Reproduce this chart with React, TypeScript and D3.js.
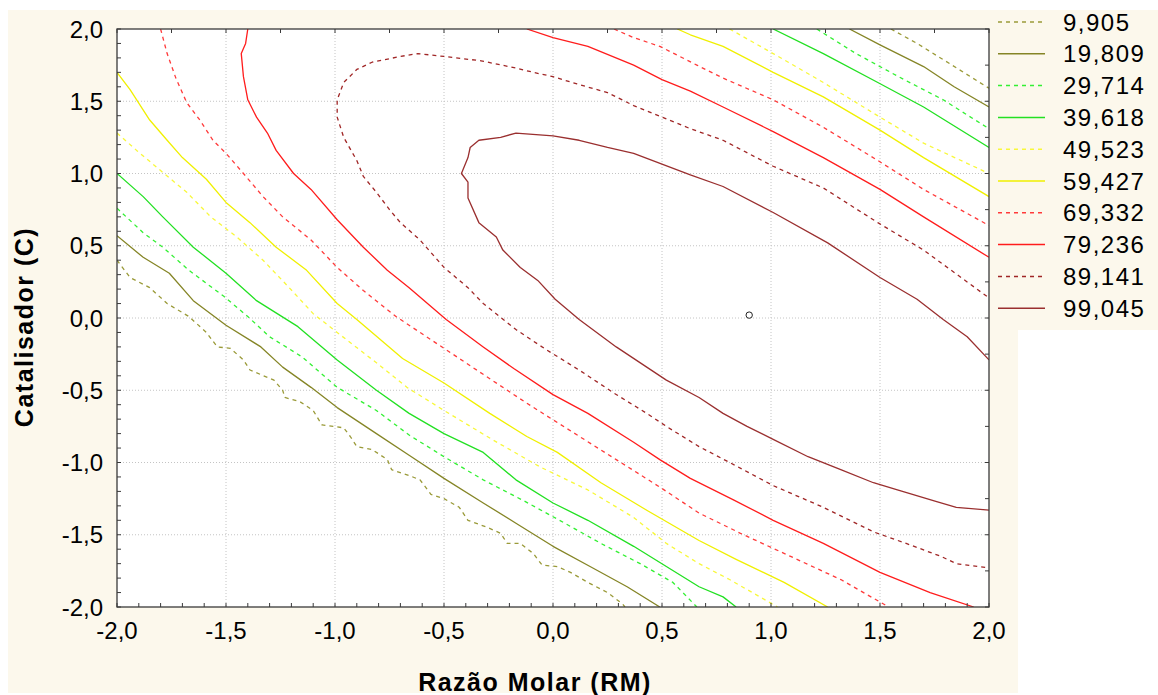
import React from "react";
import * as d3 from "d3";

const W = 1158;
const H = 695;
const PLOT = { left: 117, top: 29, right: 989, bottom: 607 };

// contour levels (legend)
const levelValues = [9.905, 19.809, 29.714, 39.618, 49.523, 59.427, 69.332, 79.236, 89.141, 99.045];
const levelColors = ["#9a9a38", "#858526", "#33f033", "#22e022", "#f8f83a", "#f0f000", "#ff3a3a", "#ff1c1c", "#a02626", "#9a2f2f"];
const levelDashed = [true, false, true, false, true, false, true, false, true, false];

// axis ticks
const tickValues = [-2, -1.5, -1, -0.5, 0, 0.5, 1, 1.5, 2];
const xTickLabels = ["-2,0", "-1,5", "-1,0", "-0,5", "0,0", "0,5", "1,0", "1,5", "2,0"];
const yTickLabels = ["-2,0", "-1,5", "-1,0", "-0,5", "0,0", "0,5", "1,0", "1,5", "2,0"];

const xTitle = "Razão Molar (RM)";
const yTitle = "Catalisador (C)";

// stationary point
const centerPoint = [0.9, 0.02];

// contour polylines (RM, C)
const contour9905 = [
  [[-2.0, 0.4], [-1.94, 0.28], [-1.85, 0.21], [-1.77, 0.1], [-1.67, 0.01], [-1.59, -0.1], [-1.54, -0.2], [-1.48, -0.21], [-1.42, -0.29], [-1.39, -0.36], [-1.28, -0.43], [-1.24, -0.5], [-1.23, -0.55], [-1.16, -0.58], [-1.1, -0.64], [-1.06, -0.74], [-0.96, -0.76], [-0.93, -0.82], [-0.9, -0.89], [-0.83, -0.91], [-0.76, -0.98], [-0.74, -1.05], [-0.66, -1.09], [-0.61, -1.12], [-0.56, -1.22], [-0.5, -1.25], [-0.43, -1.31], [-0.39, -1.4], [-0.3, -1.45], [-0.24, -1.49], [-0.21, -1.56], [-0.15, -1.56], [-0.09, -1.63], [-0.05, -1.71], [0.02, -1.72], [0.08, -1.76], [0.16, -1.83], [0.25, -1.9], [0.32, -1.98], [0.33, -2.0]],
  [[1.55, 2.0], [1.67, 1.9], [1.82, 1.76], [2.0, 1.59]],
];
const contour19809 = [
  [[-2.0, 0.57], [-1.88, 0.42], [-1.76, 0.31], [-1.65, 0.12], [-1.5, -0.05], [-1.34, -0.2], [-1.24, -0.34], [-1.11, -0.48], [-0.99, -0.62], [-0.81, -0.8], [-0.66, -0.95], [-0.5, -1.11], [-0.32, -1.28], [-0.17, -1.42], [0.0, -1.58], [0.17, -1.72], [0.34, -1.86], [0.49, -2.0]],
  [[1.36, 2.0], [1.5, 1.89], [1.7, 1.74], [1.84, 1.6], [2.0, 1.46]],
];
const contour29714 = [
  [[-2.0, 0.76], [-1.88, 0.59], [-1.79, 0.49], [-1.67, 0.33], [-1.51, 0.15], [-1.4, 0.01], [-1.3, -0.13], [-1.15, -0.27], [-0.99, -0.48], [-0.81, -0.64], [-0.66, -0.81], [-0.5, -0.96], [-0.32, -1.12], [-0.14, -1.26], [0.03, -1.4], [0.22, -1.56], [0.4, -1.7], [0.55, -1.83], [0.66, -2.0]],
  [[1.21, 2.0], [1.39, 1.83], [1.61, 1.65], [1.79, 1.51], [2.0, 1.31]],
];
const contour39618 = [
  [[-2.0, 1.0], [-1.88, 0.84], [-1.79, 0.7], [-1.65, 0.49], [-1.5, 0.31], [-1.36, 0.12], [-1.17, -0.06], [-0.99, -0.29], [-0.81, -0.5], [-0.66, -0.66], [-0.5, -0.8], [-0.32, -0.93], [-0.17, -1.12], [0.0, -1.28], [0.16, -1.4], [0.37, -1.58], [0.52, -1.72], [0.67, -1.86], [0.78, -1.93], [0.84, -2.0]],
  [[1.01, 2.0], [1.24, 1.83], [1.49, 1.63], [1.7, 1.46], [2.0, 1.18]],
];
const contour49523 = [
  [[-2.0, 1.28], [-1.91, 1.16], [-1.8, 1.02], [-1.68, 0.87], [-1.57, 0.7], [-1.45, 0.56], [-1.33, 0.4], [-1.21, 0.21], [-1.1, 0.03], [-0.99, -0.1], [-0.81, -0.31], [-0.67, -0.48], [-0.5, -0.64], [-0.28, -0.84], [-0.06, -1.03], [0.16, -1.19], [0.37, -1.38], [0.52, -1.56], [0.67, -1.7], [0.81, -1.81], [1.03, -2.0]],
  [[0.81, 2.0], [1.01, 1.83], [1.24, 1.63], [1.5, 1.39], [1.7, 1.21], [2.0, 1.0]],
];
const contour59427 = [
  [[-2.0, 1.7], [-1.94, 1.58], [-1.85, 1.37], [-1.77, 1.23], [-1.7, 1.11], [-1.59, 0.96], [-1.5, 0.8], [-1.39, 0.66], [-1.27, 0.49], [-1.13, 0.33], [-0.99, 0.1], [-0.9, -0.01], [-0.69, -0.28], [-0.5, -0.45], [-0.29, -0.66], [-0.12, -0.82], [0.02, -0.93], [0.22, -1.14], [0.43, -1.33], [0.67, -1.54], [0.84, -1.67], [1.06, -1.83], [1.26, -2.0]],
  [[0.57, 2.0], [0.63, 1.96], [0.78, 1.88], [1.01, 1.7], [1.24, 1.53], [1.5, 1.3], [1.7, 1.11], [2.0, 0.84]],
];
const contour69332 = [
  [[-1.8, 2.0], [-1.77, 1.83], [-1.73, 1.66], [-1.68, 1.49], [-1.62, 1.37], [-1.56, 1.23], [-1.5, 1.14], [-1.42, 1.0], [-1.33, 0.84], [-1.24, 0.7], [-1.11, 0.54], [-0.99, 0.35], [-0.87, 0.19], [-0.72, 0.01], [-0.49, -0.22], [-0.3, -0.41], [-0.12, -0.59], [0.09, -0.79], [0.29, -0.98], [0.49, -1.17], [0.67, -1.35], [0.86, -1.49], [1.09, -1.65], [1.32, -1.81], [1.54, -2.0]],
  [[0.28, 2.0], [0.37, 1.94], [0.49, 1.88], [0.66, 1.75], [0.78, 1.66], [1.01, 1.51], [1.24, 1.32], [1.49, 1.09], [1.7, 0.89], [2.0, 0.64]],
];
const contour79236 = [
  [[-1.4, 2.0], [-1.41, 1.9], [-1.43, 1.83], [-1.42, 1.67], [-1.4, 1.51], [-1.36, 1.39], [-1.31, 1.28], [-1.27, 1.16], [-1.19, 1.0], [-1.11, 0.89], [-0.99, 0.68], [-0.87, 0.49], [-0.76, 0.33], [-0.66, 0.21], [-0.49, -0.01], [-0.32, -0.2], [-0.18, -0.35], [0.0, -0.53], [0.16, -0.66], [0.37, -0.86], [0.49, -0.98], [0.63, -1.11], [0.83, -1.26], [1.01, -1.4], [1.24, -1.56], [1.5, -1.76], [1.73, -1.9], [1.93, -2.0]],
  [[-0.12, 2.0], [0.0, 1.94], [0.16, 1.88], [0.37, 1.75], [0.5, 1.65], [0.63, 1.57], [0.78, 1.46], [1.01, 1.29], [1.24, 1.11], [1.5, 0.89], [1.7, 0.7], [2.0, 0.42]],
];
const contour89141 = [
  [[1.99, 0.15], [1.7, 0.47], [1.49, 0.66], [1.24, 0.9], [1.01, 1.05], [0.78, 1.23], [0.63, 1.31], [0.5, 1.39], [0.37, 1.47], [0.25, 1.56], [0.11, 1.62], [0.0, 1.67], [-0.09, 1.7], [-0.17, 1.73], [-0.33, 1.78], [-0.5, 1.81], [-0.62, 1.83], [-0.7, 1.81], [-0.83, 1.77], [-0.9, 1.72], [-0.96, 1.63], [-0.99, 1.51], [-0.99, 1.39], [-0.96, 1.25], [-0.9, 1.09], [-0.87, 0.98], [-0.81, 0.87], [-0.75, 0.75], [-0.7, 0.66], [-0.61, 0.54], [-0.5, 0.35], [-0.39, 0.21], [-0.32, 0.1], [-0.17, -0.08], [-0.03, -0.22], [0.12, -0.36], [0.28, -0.52], [0.43, -0.66], [0.52, -0.75], [0.67, -0.89], [0.81, -1.0], [1.01, -1.16], [1.24, -1.31], [1.47, -1.48], [1.62, -1.56], [1.78, -1.65], [1.85, -1.7], [2.0, -1.73]],
];
const contour99045 = [
  [[2.0, -0.29], [1.9, -0.13], [1.79, -0.01], [1.67, 0.13], [1.5, 0.28], [1.26, 0.52], [1.01, 0.73], [0.78, 0.91], [0.63, 0.99], [0.37, 1.14], [0.25, 1.18], [0.12, 1.23], [0.0, 1.26], [-0.17, 1.28], [-0.24, 1.25], [-0.34, 1.23], [-0.38, 1.18], [-0.39, 1.11], [-0.42, 1.0], [-0.39, 0.94], [-0.39, 0.83], [-0.34, 0.66], [-0.26, 0.56], [-0.23, 0.47], [-0.15, 0.35], [-0.07, 0.26], [0.01, 0.13], [0.12, -0.01], [0.29, -0.2], [0.43, -0.34], [0.52, -0.43], [0.67, -0.55], [0.78, -0.66], [0.89, -0.75], [1.01, -0.84], [1.17, -0.96], [1.32, -1.05], [1.47, -1.14], [1.58, -1.19], [1.76, -1.27], [1.85, -1.31], [2.0, -1.33]],
];

const contours = [contour9905, contour19809, contour29714, contour39618, contour49523, contour59427, contour69332, contour79236, contour89141, contour99045];

const ptBR = d3.formatLocale({ decimal: ",", thousands: ".", grouping: [3], currency: ["", ""] });
const fmtLevel = ptBR.format(".3f");

const FONT = "'Liberation Sans', Arial, Helvetica, sans-serif";
const BEIGE = "#fcf8ec";

export default function App() {
  const x = d3.scaleLinear().domain([-2, 2]).range([PLOT.left, PLOT.right]);
  const y = d3.scaleLinear().domain([-2, 2]).range([PLOT.bottom, PLOT.top]);
  const line = d3
    .line<number[]>()
    .x((d) => x(d[0]))
    .y((d) => y(d[1]));

  const minorTicks = d3.range(-2, 2.0001, 0.1);
  const sideTicks = d3.range(-2, 2.0001, 0.25);
  const gridVals = tickValues.slice(1, -1);

  const legendTop = 22;
  const legendStep = 31.8;

  return (
    <svg width={W} height={H} style={{ position: "absolute", left: 0, top: 0, display: "block" }}>
      <rect x={0} y={0} width={W} height={H} fill="#ffffff" />
      <rect x={8} y={10} width={1010} height={683} fill={BEIGE} />
      <rect x={1018} y={10} width={W - 1018} height={320} fill={BEIGE} />
      <rect x={PLOT.left} y={PLOT.top} width={PLOT.right - PLOT.left} height={PLOT.bottom - PLOT.top} fill="#ffffff" />

      <defs>
        <clipPath id="plotclip">
          <rect x={PLOT.left} y={PLOT.top} width={PLOT.right - PLOT.left} height={PLOT.bottom - PLOT.top} />
        </clipPath>
      </defs>

      {/* grid */}
      <g stroke="#c4c4c4" strokeWidth={1} strokeDasharray="1,2">
        {gridVals.map((v) => (
          <line key={"gx" + v} x1={x(v)} x2={x(v)} y1={PLOT.top} y2={PLOT.bottom} />
        ))}
        {gridVals.map((v) => (
          <line key={"gy" + v} x1={PLOT.left} x2={PLOT.right} y1={y(v)} y2={y(v)} />
        ))}
      </g>

      {/* contours */}
      <g clipPath="url(#plotclip)" fill="none">
        {contours.map((segs, i) =>
          segs.map((seg, j) => (
            <path
              key={"c" + i + "_" + j}
              d={line(seg) || ""}
              stroke={levelColors[i]}
              strokeWidth={1.3}
              strokeDasharray={levelDashed[i] ? "4,4" : undefined}
              strokeLinejoin="round"
            />
          ))
        )}
      </g>

      {/* center marker */}
      <circle cx={x(centerPoint[0])} cy={y(centerPoint[1])} r={3.2} fill="#ffffff" stroke="#222" strokeWidth={1} />

      {/* frame */}
      <rect
        x={PLOT.left}
        y={PLOT.top}
        width={PLOT.right - PLOT.left}
        height={PLOT.bottom - PLOT.top}
        fill="none"
        stroke="#3a3a3a"
        strokeWidth={1.3}
      />

      {/* ticks */}
      <g stroke="#3a3a3a" strokeWidth={1}>
        {minorTicks.map((v, i) => (
          <line key={"tb" + i} x1={x(v)} x2={x(v)} y1={PLOT.bottom} y2={PLOT.bottom - 4} />
        ))}
        {minorTicks.map((v, i) => (
          <line key={"tl" + i} x1={PLOT.left} x2={PLOT.left + 4} y1={y(v)} y2={y(v)} />
        ))}
        {sideTicks.map((v, i) => (
          <line key={"tt" + i} x1={x(v)} x2={x(v)} y1={PLOT.top} y2={PLOT.top + 4} />
        ))}
        {sideTicks.map((v, i) => (
          <line key={"tr" + i} x1={PLOT.right} x2={PLOT.right - 4} y1={y(v)} y2={y(v)} />
        ))}
      </g>

      {/* tick labels */}
      <g fontFamily={FONT} fontSize={24} fill="#000">
        {tickValues.map((v, i) => (
          <text key={"xl" + i} x={x(v)} y={639} textAnchor="middle">
            {xTickLabels[i]}
          </text>
        ))}
        {tickValues.map((v, i) => (
          <text key={"yl" + i} x={103} y={y(v) + 8.5} textAnchor="end">
            {yTickLabels[i]}
          </text>
        ))}
      </g>

      {/* axis titles */}
      <text x={535} y={691} textAnchor="middle" fontFamily={FONT} fontSize={25} fontWeight="bold" letterSpacing={1.5}>
        {xTitle}
      </text>
      <text
        transform={`translate(33,327) rotate(-90)`}
        textAnchor="middle"
        fontFamily={FONT}
        fontSize={25}
        fontWeight="bold"
        letterSpacing={1.5}
      >
        {yTitle}
      </text>

      {/* legend */}
      <g>
        {levelValues.map((v, i) => {
          const cy = legendTop + i * legendStep;
          return (
            <g key={"lg" + i}>
              <line
                x1={998}
                x2={1045}
                y1={cy}
                y2={cy}
                stroke={levelColors[i]}
                strokeWidth={1.5}
                strokeDasharray={levelDashed[i] ? "4,4" : undefined}
              />
              <text x={1063} y={cy + 8.5} fontFamily={FONT} fontSize={24} letterSpacing={1.5} fill="#000">
                {fmtLevel(v)}
              </text>
            </g>
          );
        })}
      </g>
    </svg>
  );
}
